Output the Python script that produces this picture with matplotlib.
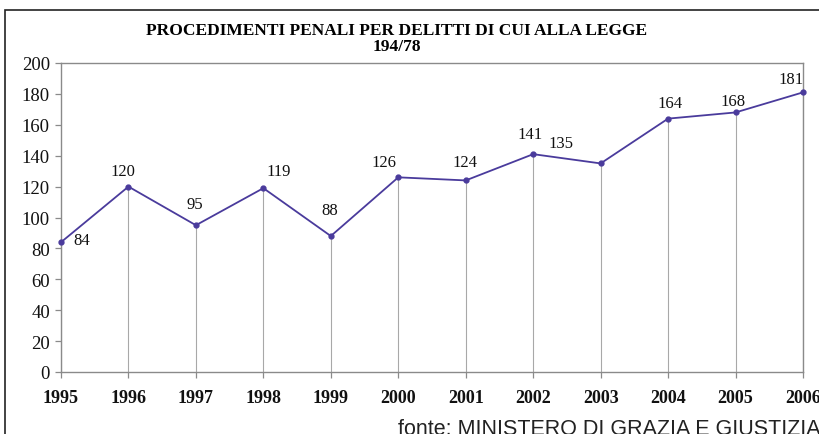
import matplotlib
matplotlib.use("Agg")
import matplotlib.pyplot as plt
from matplotlib.patches import Rectangle

years = [1995, 1996, 1997, 1998, 1999, 2000, 2001, 2002, 2003, 2004, 2005, 2006]
values = [84, 120, 95, 119, 88, 126, 124, 141, 135, 164, 168, 181]
yticks = [0, 20, 40, 60, 80, 100, 120, 140, 160, 180, 200]
title = "PROCEDIMENTI PENALI PER DELITTI DI CUI ALLA LEGGE\n194/78"
source = "fonte: MINISTERO DI GRAZIA E GIUSTIZIA"

# label offsets in pixels (dx, dy) relative to the data point
label_offsets = [(21, 2), (-6, 16), (-1, 21), (15, 17), (-1, 26), (-14, 15),
                 (-1, 18), (-3, 20), (-40, 20), (2, 16), (-2, 11), (-12, 13)]

fig = plt.figure(figsize=(8.19, 4.35), dpi=100)
fig.patch.set_facecolor("white")

# outer frame
fig.add_artist(Rectangle((5 / 819, -0.2), 2.0, 1 - 11 / 435 + 0.2,
                         transform=fig.transFigure, fill=False,
                         edgecolor="#222222", linewidth=1.2))

ax = fig.add_axes([61 / 819, 1 - 373 / 435, (803 - 61) / 819, (373 - 64) / 435])
ax.set_xlim(years[0], years[-1])
ax.set_ylim(0, 200)

line_col = "#4a3b9c"
ax.vlines(years, 0, values, colors="#a8a8a8", linewidth=0.8, zorder=1)
ax.plot(years, values, color=line_col, linewidth=1.3, marker="o",
        markersize=3.5, zorder=3, clip_on=False)

for x, v, (dx, dy) in zip(years, values, label_offsets):
    ax.annotate(str(v), (x, v), xytext=(dx * 0.72, dy * 0.72),
                textcoords="offset points", ha="center", va="center",
                fontsize=12, family="Liberation Serif", color="#111111")

ax.set_xticks(years)
ax.set_xticklabels([str(y) for y in years], fontsize=13,
                   family="Liberation Serif", fontweight="bold")
ax.set_yticks(yticks)
ax.set_yticklabels([str(t) for t in yticks], fontsize=13.5,
                   family="Liberation Serif")
for s in ax.spines.values():
    s.set_color("#8a8a8a")
    s.set_linewidth(1.0)
ax.tick_params(axis="both", colors="#8a8a8a", labelcolor="#111111",
               length=4, width=0.9)
ax.tick_params(axis="x", pad=8)
ax.tick_params(axis="y", pad=4)

fig.text(397 / 819, 1 - 39 / 435, title, ha="center", va="center",
         fontsize=12.5, family="Liberation Serif", fontweight="bold",
         linespacing=1.0)
fig.text(398 / 819, 1 - 430 / 435, source, ha="left", va="center",
         fontsize=15.5, family="Liberation Sans", color="#222222")

fig.savefig("out.png", dpi=100)
